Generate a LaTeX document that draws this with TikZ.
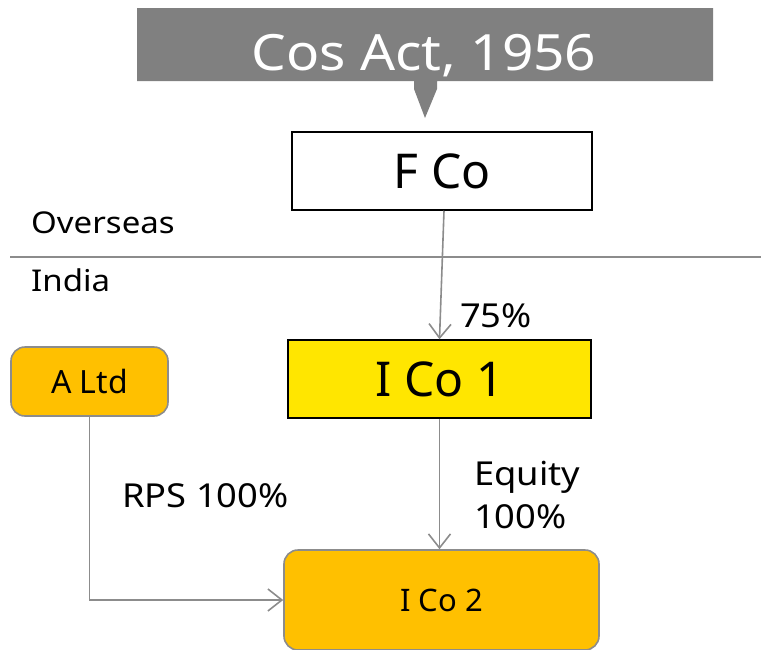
\documentclass[tikz,border=0pt]{standalone}
\usepackage{fontspec}
\setmainfont{Noto Sans}
\newfontfamily\widefont[FakeStretch=1.1]{Noto Sans}
\usetikzlibrary{arrows.meta}
\definecolor{calloutgray}{HTML}{808080}
\definecolor{linegray}{HTML}{8C8C8C}
\definecolor{boxyellow}{HTML}{FFE600}
\definecolor{boxorange}{HTML}{FFC000}
\tikzset{
  conn/.style={draw=linegray, line width=1.6pt,
    -{Straight Barb[length=14pt,width=22pt,line width=1.6pt]}},
  sqbox/.style={draw=black, line width=1.5pt, inner sep=0pt, font=\fontsize{48}{54}\selectfont},
  rbox/.style={draw=linegray, line width=1.6pt, fill=boxorange, rounded corners=14pt, inner sep=0pt},
  lbl/.style={inner sep=0pt, anchor=base west, font=\widefont\fontsize{30}{36}\selectfont},
  biglbl/.style={lbl, font=\widefont\fontsize{33}{40}\selectfont}
}
\begin{document}
\begin{tikzpicture}[x=1pt,y=-1pt]
  \useasboundingbox (0,0) rectangle (761,649);
  % callout banner with its pointer
  \fill[calloutgray] (137,8) -- (713,8) -- (713,81) -- (437,81) -- (437,89)
    -- (425,118) -- (414,89) -- (414,81) -- (137,81) -- cycle;
  \node[inner sep=0pt, text=white, anchor=base, font=\widefont\fontsize{50}{60}\selectfont]
    (act) at (424,70) {Cos Act, 1956};
  % divider between overseas and India
  \coordinate (divl) at (10,257);
  \coordinate (divr) at (761,257);
  \draw[linegray, line width=1.5pt] (divl) -- (divr);
  \node[lbl] (ovs) at (31,233) {Overseas};
  \node[lbl] (ind) at (31,291) {India};
  % entities
  \node[sqbox, fill=white, minimum width=300pt, minimum height=78pt] (fco) at (442,171) {F Co};
  \node[sqbox, fill=boxyellow, minimum width=303pt, minimum height=78pt] (ico1) at (439.5,379) {I Co 1};
  \node[rbox, minimum width=157pt, minimum height=69pt, font=\fontsize{32}{38}\selectfont] (altd) at (89.5,381.5) {A Ltd};
  \node[rbox, minimum width=315pt, minimum height=100pt, font=\fontsize{31}{36}\selectfont] (ico2) at (441.5,600) {I Co 2};
  % holdings
  \draw[conn] ([xshift=2pt]fco.south) -- (ico1.north);
  \draw[conn] (ico1.south) -- (ico1.south |- ico2.north);
  \draw[conn] (altd.south) |- (ico2.west);
  \node[biglbl] (p75) at (460,327) {75\%};
  \node[biglbl] (eq) at (474,485) {Equity};
  \node[biglbl] (eqp) at (474,528) {100\%};
  \node[biglbl] (rps) at (122,507) {RPS 100\%};
\end{tikzpicture}
\end{document}
